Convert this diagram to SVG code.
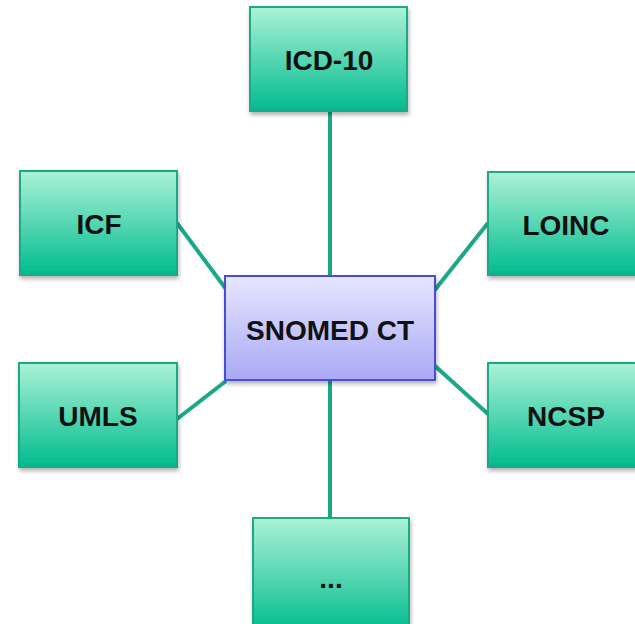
<svg xmlns="http://www.w3.org/2000/svg" width="635" height="624" viewBox="0 0 635 624">
<defs>
<linearGradient id="g" x1="0" y1="0" x2="0" y2="1">
<stop offset="0" stop-color="#acf2d6"/>
<stop offset="1" stop-color="#00bb8e"/>
</linearGradient>
<linearGradient id="p" x1="0" y1="0" x2="0" y2="1">
<stop offset="0" stop-color="#e6e6ff"/>
<stop offset="1" stop-color="#a9a9f5"/>
</linearGradient>
<filter id="sh" x="-10%" y="-10%" width="125%" height="130%">
<feGaussianBlur in="SourceAlpha" stdDeviation="2"/>
<feOffset dx="1" dy="3"/>
<feComponentTransfer><feFuncA type="linear" slope="0.3"/></feComponentTransfer>
<feMerge><feMergeNode/><feMergeNode in="SourceGraphic"/></feMerge>
</filter>
</defs>
<style>
.n rect{fill:url(#g);stroke:#1aa987;stroke-width:2;filter:url(#sh)}
.c rect{fill:url(#p);stroke:#4c4cd6;stroke-width:2;filter:url(#sh)}
text{font-family:"Liberation Sans",Arial,sans-serif;font-weight:bold;font-size:28px;fill:#111;text-anchor:middle}
.e line{stroke:#1aa987;stroke-width:4}
</style>
<g class="e" id="connectors">
<line x1="330" y1="110" x2="330" y2="277"/>
<line x1="330" y1="379" x2="330" y2="519"/>
<line x1="177" y1="223" x2="226" y2="289"/>
<line x1="488" y1="223" x2="434" y2="291"/>
<line x1="177" y1="419" x2="226" y2="381"/>
<line x1="488" y1="414" x2="434" y2="365"/>
</g>
<g class="n" id="icd10"><rect x="250" y="7" width="157" height="104"/><text x="329" y="70">ICD-10</text></g>
<g class="n" id="icf"><rect x="20" y="171" width="157" height="104"/><text x="99" y="234">ICF</text></g>
<g class="n" id="loinc"><rect x="488" y="172" width="160" height="103"/><text x="566" y="235">LOINC</text></g>
<g class="n" id="umls"><rect x="19" y="363" width="158" height="104"/><text x="98" y="426">UMLS</text></g>
<g class="n" id="ncsp"><rect x="488" y="363" width="160" height="104"/><text x="566" y="426">NCSP</text></g>
<g class="n" id="more"><rect x="253" y="518" width="156" height="115"/><text x="331" y="588">...</text></g>
<g class="c" id="snomed"><rect x="225" y="276" width="210" height="104"/><text x="330" y="340">SNOMED CT</text></g>
</svg>
